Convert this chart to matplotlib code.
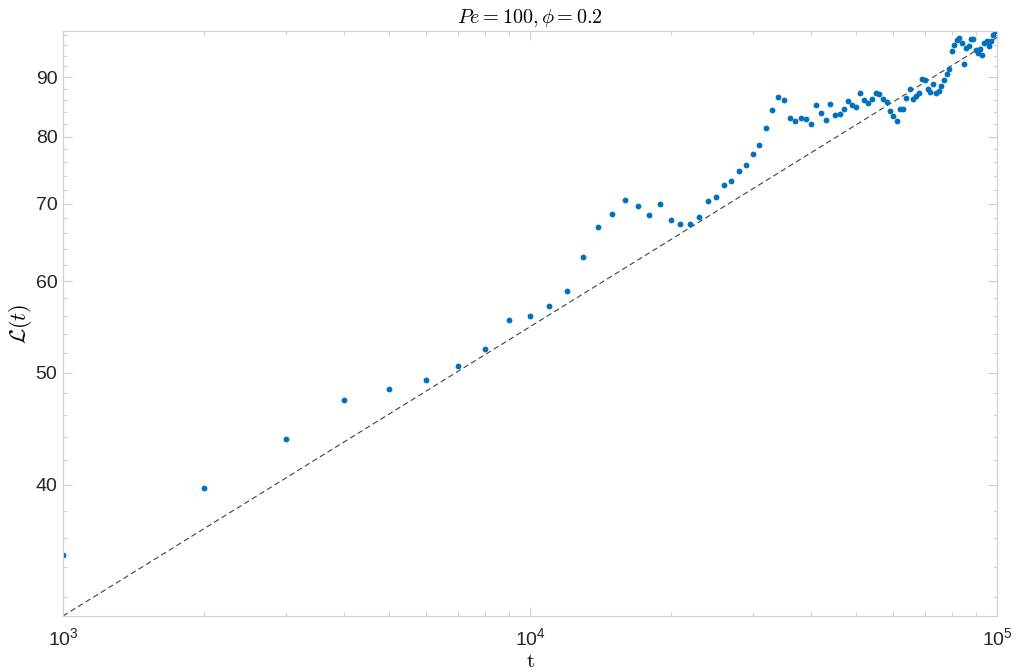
import numpy as np
import matplotlib
matplotlib.use("Agg")
from matplotlib import pyplot as plt
from matplotlib.ticker import FixedLocator, NullFormatter, LogLocator, FormatStrFormatter

plt.rcParams["font.family"] = ["Liberation Sans", "DejaVu Sans"]
plt.rcParams["mathtext.fontset"] = "cm"

# time samples (every 1000 steps)
t = np.arange(1, 100) * 1000

# domain length scale L(t)
L = [34.77, 39.75, 43.85, 47.33, 48.43, 49.25, 50.67, 52.45, 55.56, 55.97,
     57.14, 58.80, 62.98, 66.77, 68.51, 70.54, 69.62, 68.38, 69.98, 67.71,
     67.21, 67.17, 68.15, 70.36, 70.92, 72.64, 73.17, 74.69, 75.54, 77.26,
     78.61, 81.35, 84.31, 86.64, 86.01, 82.97, 82.57, 83.07, 82.85, 81.98,
     85.21, 83.77, 82.64, 85.33, 83.43, 83.60, 84.49, 85.84, 85.11, 84.77,
     87.17, 86.01, 85.45, 86.18, 87.22, 87.10, 86.15, 85.67, 84.12, 83.27,
     82.60, 84.54, 84.57, 86.36, 87.97, 86.22, 86.67, 87.17, 89.65, 89.45,
     87.95, 87.43, 88.85, 87.20, 87.65, 88.42, 89.56, 90.53, 91.54, 94.77,
     95.91, 97.02, 97.27, 96.31, 92.37, 95.43, 95.77, 97.08, 97.08, 95.11,
     94.41, 95.15, 94.13, 96.40, 96.69, 95.81, 96.79, 97.84, 98.71]

# t^(1/4) reference line end points
ref_t = [1e3, 1e5]
ref_L = [30.81, 97.43]

y_major = [40, 50, 60, 70, 80, 90]
y_minor = [32, 34, 36, 38, 42, 44, 46, 48, 52, 54, 56, 58, 62, 64, 66, 68,
           72, 74, 76, 78, 82, 84, 86, 88, 92, 94, 96, 98]

fig = plt.figure(figsize=(10.16, 6.72), dpi=100)
ax = fig.add_axes([0.062, 0.0833, 0.9193, 0.8706])

ax.plot(ref_t, ref_L, linestyle=(0, (5, 3)), color="0.25", lw=0.8)
ax.plot(t, L, "o", color="#0072BD", markersize=4.2, markeredgewidth=0)

ax.set_xscale("log")
ax.set_yscale("log")
ax.set_xlim(1e3, 1e5)
ax.set_ylim(ref_L[0], max(L))

ax.xaxis.set_major_locator(LogLocator(base=10))
ax.xaxis.set_minor_locator(LogLocator(base=10, subs=np.arange(2, 10)))
ax.xaxis.set_minor_formatter(NullFormatter())
ax.yaxis.set_major_locator(FixedLocator(y_major))
ax.yaxis.set_minor_locator(FixedLocator(y_minor))
ax.yaxis.set_major_formatter(FormatStrFormatter("%d"))
ax.yaxis.set_minor_formatter(NullFormatter())

edge = "#cfcfcf"
for s in ax.spines.values():
    s.set_color(edge)
    s.set_linewidth(0.8)
ax.tick_params(which="both", direction="in", top=True, right=True,
               color=edge, labelcolor="#262626", labelsize=14)
ax.tick_params(which="major", length=6.5, width=0.8)
ax.tick_params(which="minor", length=3, width=0.8)
ax.tick_params(axis="x", which="major", pad=8)
ax.tick_params(axis="y", which="major", pad=4)

ax.set_title(r"$Pe = 100, \phi = 0.2$", fontsize=14.5, pad=6)
ax.set_xlabel(r"$\mathrm{t}$", fontsize=15, labelpad=2)
ax.set_ylabel(r"$\mathcal{L}(t)$", fontsize=16, labelpad=1)

fig.savefig("out.png", dpi=100)
